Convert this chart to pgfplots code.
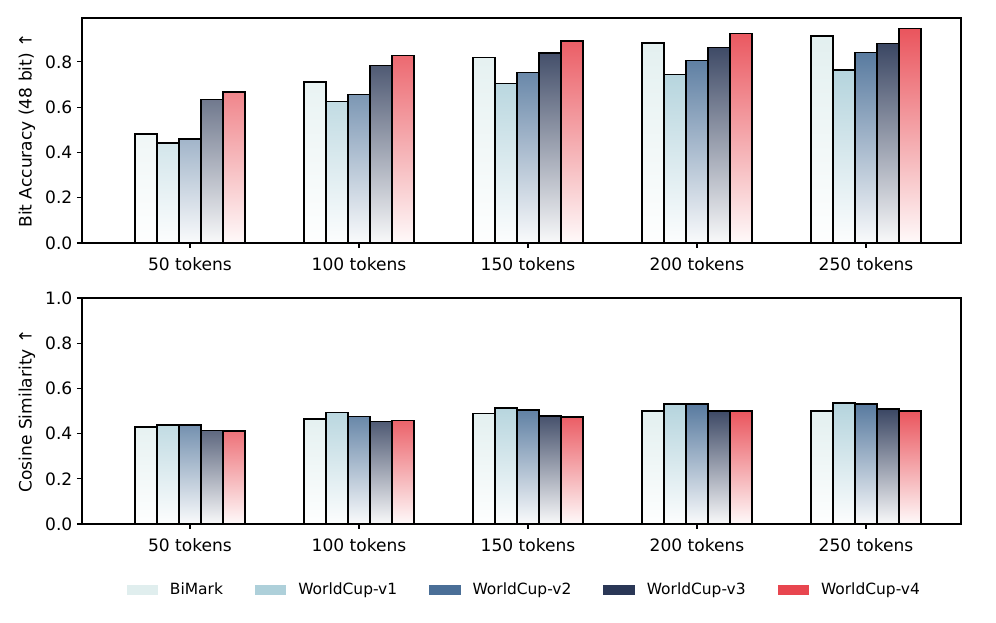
\documentclass[border=0pt]{standalone}
\usepackage{fontspec}
\setmainfont{DejaVu Sans}
\usepackage{pgfplots}
\pgfplotsset{compat=1.18}
\definecolor{cBi}{HTML}{E0EEEE}
\definecolor{cVa}{HTML}{AED0DA}
\definecolor{cVb}{HTML}{4A6F97}
\definecolor{cVc}{HTML}{2A3756}
\definecolor{cVd}{HTML}{E8464F}
\pgfplotsset{
  base/.style={
    scale only axis, width=659.25pt,
    xmin=-0.639, xmax=4.562, ymin=0,
    xtick={0,1,2,3,4},
    xticklabels={50 tokens,100 tokens,150 tokens,200 tokens,250 tokens},
    xtick pos=bottom, ytick pos=left,
    tick align=outside, major tick length=3.75pt,
    every tick/.style={black, line width=0.8pt},
    axis line style={line width=0.8pt},
    tick label style={font=\fontsize{12.8}{15}\selectfont},
    xticklabel style={yshift=-3.5pt},
    /pgf/number format/assume math mode=true,
    yticklabel style={/pgf/number format/fixed, /pgf/number format/fixed zerofill, /pgf/number format/precision=1},
    every axis y label/.style={at={(axis description cs:-0.0626,0.5)}, rotate=90, anchor=center,
      font=\fontsize{12.8}{15}\selectfont},
  },
  mybar/.style 2 args={ybar, bar width=0.13, bar shift=#2, draw=black, line width=1.1pt,
    top color=#1!92!white, bottom color=#1!3!white, forget plot},
  legpatch/.style={legend image code/.code={\fill[##1, draw=none] (0pt,-4.1pt) rectangle (23.5pt,4.1pt);}},
}
\pgfplotstableread{
x bi v1 v2 v3 v4
0 0.482 0.441 0.459 0.633 0.668
1 0.711 0.624 0.656 0.785 0.829
2 0.820 0.704 0.752 0.839 0.892
3 0.884 0.745 0.807 0.864 0.925
4 0.915 0.764 0.842 0.881 0.947
}\acc
\pgfplotstableread{
x bi v1 v2 v3 v4
0 0.429 0.439 0.439 0.413 0.411
1 0.465 0.493 0.476 0.453 0.459
2 0.490 0.513 0.504 0.478 0.473
3 0.501 0.531 0.531 0.501 0.500
4 0.501 0.535 0.531 0.508 0.501
}\cos
\begin{document}
\begin{tikzpicture}
\path[use as bounding box] (-61.5pt,-74.25pt) rectangle (685.5pt,393pt);
\begin{axis}[base, at={(0pt,210.75pt)}, anchor=south west, height=168.75pt,
  ymax=0.994, ytick={0,0.2,0.4,0.6,0.8},
  ylabel={Bit Accuracy (48 bit) ↑}]
\addplot[mybar={cBi}{-0.26}] table[x=x,y=bi]{\acc};
\addplot[mybar={cVa}{-0.13}] table[x=x,y=v1]{\acc};
\addplot[mybar={cVb}{0}] table[x=x,y=v2]{\acc};
\addplot[mybar={cVc}{0.13}] table[x=x,y=v3]{\acc};
\addplot[mybar={cVd}{0.26}] table[x=x,y=v4]{\acc};
\end{axis}
\begin{axis}[base, at={(0pt,0pt)}, anchor=south west, height=169.5pt,
  ymax=1, ytick={0,0.2,0.4,0.6,0.8,1},
  ylabel={Cosine Similarity ↑},
  legend columns=5,
  legend style={at={(0.502,-0.292)}, anchor=center, draw=none, fill=none,
    font=\fontsize{11.6}{14}\selectfont,
    /tikz/every odd column/.style={column sep=9pt},
    /tikz/every even column/.style={column sep=24pt},
    nodes={inner xsep=0pt}}]
\addlegendimage{legpatch, fill=cBi}\addlegendentry{BiMark}
\addlegendimage{legpatch, fill=cVa}\addlegendentry{WorldCup-v1}
\addlegendimage{legpatch, fill=cVb}\addlegendentry{WorldCup-v2}
\addlegendimage{legpatch, fill=cVc}\addlegendentry{WorldCup-v3}
\addlegendimage{legpatch, fill=cVd}\addlegendentry{WorldCup-v4}
\addplot[mybar={cBi}{-0.26}] table[x=x,y=bi]{\cos};
\addplot[mybar={cVa}{-0.13}] table[x=x,y=v1]{\cos};
\addplot[mybar={cVb}{0}] table[x=x,y=v2]{\cos};
\addplot[mybar={cVc}{0.13}] table[x=x,y=v3]{\cos};
\addplot[mybar={cVd}{0.26}] table[x=x,y=v4]{\cos};
\end{axis}
\end{tikzpicture}
\end{document}
